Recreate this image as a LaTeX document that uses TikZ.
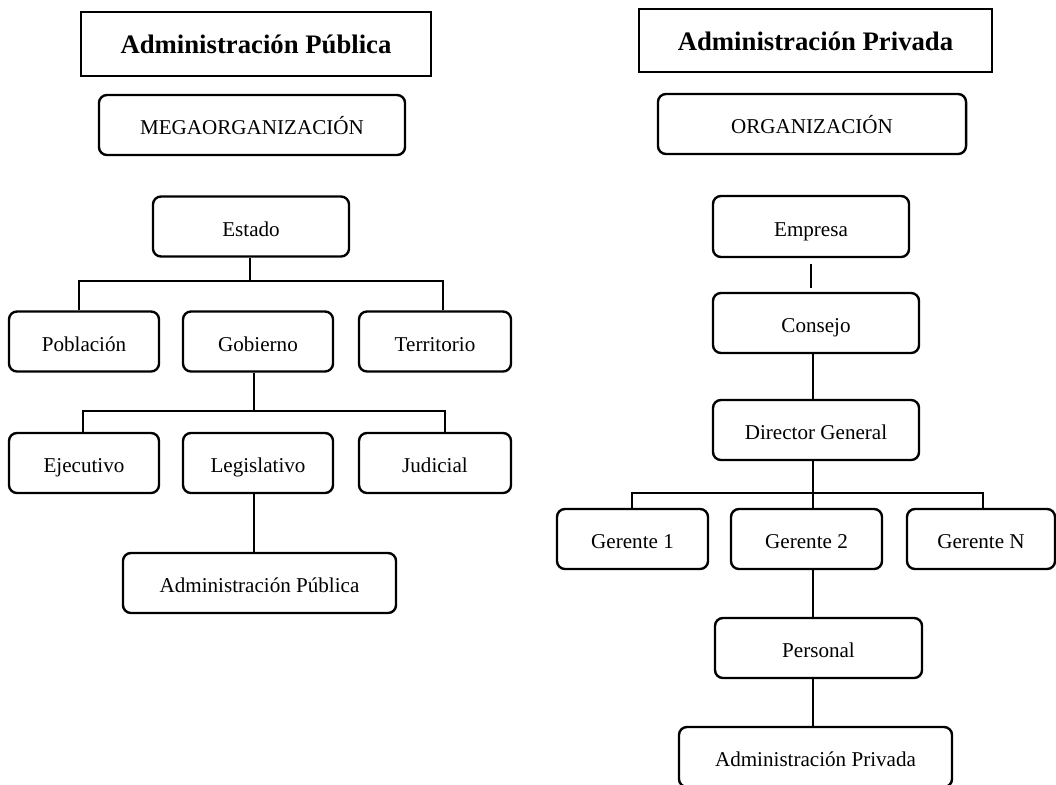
\documentclass[tikz,border=0pt]{standalone}
\usepackage{fontspec}
\setmainfont{Liberation Serif}
\begin{document}
\begin{tikzpicture}[x=0.025cm,y=-0.025cm,line width=1.7pt,
  caja/.style={draw,rounded corners=0.2cm,minimum height=1.5cm,inner sep=0pt,text height=14pt,text depth=0pt,font=\fontsize{15}{18}\selectfont},
  titulo/.style={draw,minimum height=1.6cm,inner sep=0pt,text height=14pt,text depth=0pt,font=\fontsize{19}{23}\selectfont\bfseries}]
\clip (0,0) rectangle (1056,784);
\node [titulo,minimum width=8.75cm] (tituloPub) at (256,44) {Administración Pública};
\node [caja,minimum width=7.65cm] (mega) at (252,125) {MEGAORGANIZACIÓN};
\node [caja,minimum width=4.9cm] (estado) at (251,226.5) {Estado};
\node [caja,minimum width=3.75cm] (poblacion) at (84,341.5) {Población};
\node [caja,minimum width=3.75cm] (gobierno) at (258,341.5) {Gobierno};
\node [caja,minimum width=3.8cm] (territorio) at (435,341.5) {Territorio};
\node [caja,minimum width=3.75cm] (ejecutivo) at (84,463) {Ejecutivo};
\node [caja,minimum width=3.75cm] (legislativo) at (258,463) {Legislativo};
\node [caja,minimum width=3.8cm] (judicial) at (435,463) {Judicial};
\node [caja,minimum width=6.825cm] (admPub) at (259.5,583) {Administración Pública};
\coordinate (barraA1) at (79,281);
\coordinate (barraA2) at (443,281);
\coordinate (barraB1) at (83,411);
\coordinate (barraB2) at (445,411);
\draw (estado.south -| 250,0) -- (barraA1 -| 250,0);
\draw (poblacion.north -| barraA1) -- (barraA1) -- (barraA2) -- (territorio.north -| barraA2);
\draw (gobierno.south -| 254,0) -- (barraB1 -| 254,0);
\draw (ejecutivo.north -| barraB1) -- (barraB1) -- (barraB2) -- (judicial.north -| barraB2);
\draw (legislativo.south -| 254,0) -- (admPub.north -| 254,0);

\node [titulo,minimum width=8.825cm,minimum height=1.575cm] (tituloPriv) at (815.5,40.5) {Administración Privada};
\node [caja,minimum width=7.7cm] (org) at (812,124) {ORGANIZACIÓN};
\node [caja,minimum width=4.9cm,minimum height=1.525cm] (empresa) at (811,226.5) {Empresa};
\node [caja,minimum width=5.15cm] (consejo) at (816,323) {Consejo};
\node [caja,minimum width=5.15cm] (director) at (816,430) {Director General};
\node [caja,minimum width=3.775cm] (gerente1) at (632.5,539) {Gerente 1};
\node [caja,minimum width=3.775cm] (gerente2) at (806.5,539) {Gerente 2};
\node [caja,minimum width=3.7cm] (gerenteN) at (981,539) {Gerente N};
\node [caja,minimum width=5.175cm] (personal) at (818.5,648) {Personal};
\node [caja,minimum width=6.825cm] (admPriv) at (815.5,757) {Administración Privada};
\coordinate (barraC1) at (632,493);
\coordinate (barraC2) at (983,493);
\draw [shorten <=0.15cm,shorten >=0.1cm] (empresa.south) -- (empresa.south |- consejo.north);
\draw (consejo.south -| 813,0) -- (director.north -| 813,0);
\draw (director.south -| 813,0) -- (gerente2.north -| 813,0);
\draw (gerente1.north -| barraC1) -- (barraC1) -- (barraC2) -- (gerenteN.north -| barraC2);
\draw (gerente2.south -| 813,0) -- (personal.north -| 813,0);
\draw (personal.south -| 813,0) -- (admPriv.north -| 813,0);
\end{tikzpicture}
\end{document}
